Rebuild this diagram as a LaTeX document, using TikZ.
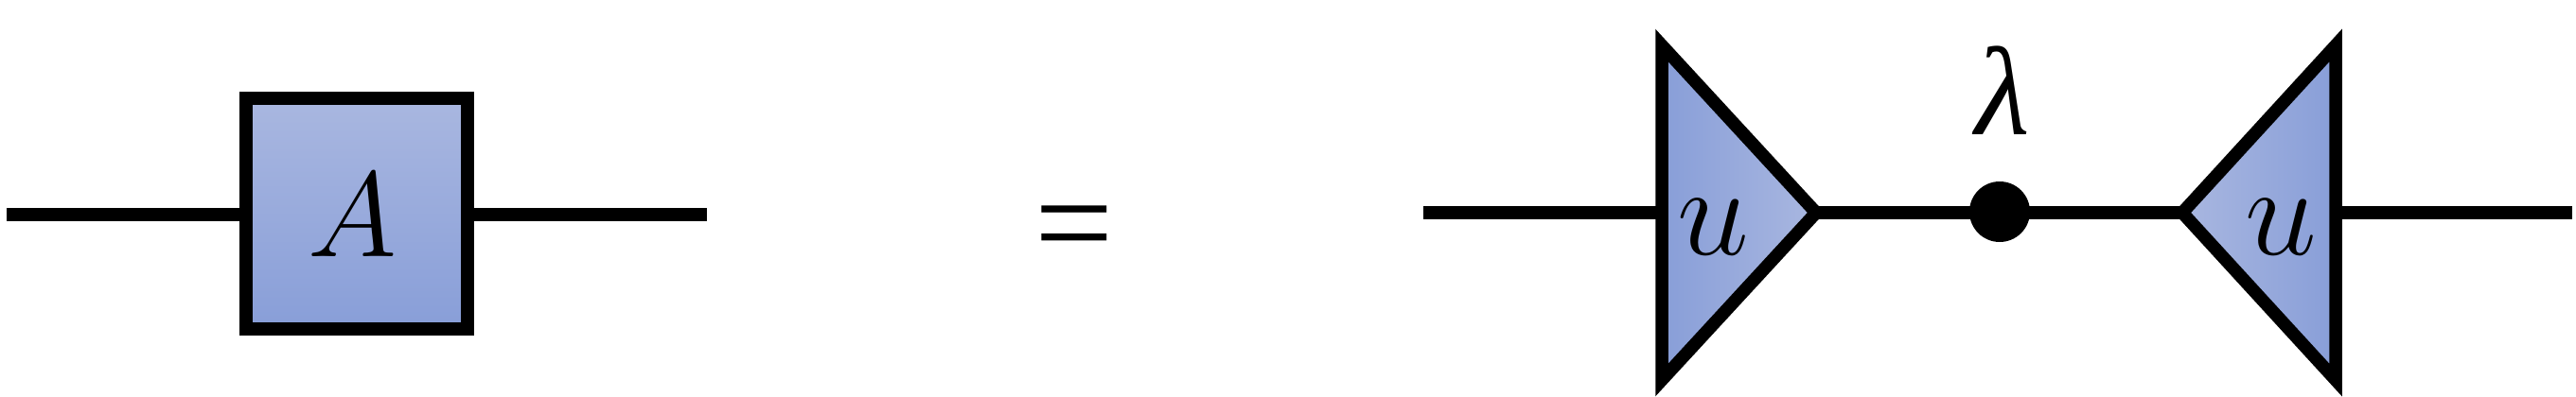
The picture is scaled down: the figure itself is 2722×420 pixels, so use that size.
\RequirePackage{fix-cm}
\documentclass[tikz,border=0pt]{standalone}
\usepackage{fontspec}
\newfontfamily\tms{Liberation Serif}
\definecolor{lightblue}{HTML}{A9B7E0}
\definecolor{darkblue}{HTML}{889ED8}
\begin{document}
\begin{tikzpicture}[x=1pt,y=-1pt,
  wire/.style={line width=13.5pt},
  tensorbox/.style={draw, line width=13.5pt, top color=lightblue, bottom color=darkblue, inner sep=0pt},
  ltri/.style={draw, line width=13.5pt, left color=darkblue, right color=lightblue},
  rtri/.style={draw, line width=13.5pt, left color=lightblue, right color=darkblue},
  lbl/.style={font=\fontsize{128}{128}\selectfont, inner sep=0pt},
  ulbl/.style={font=\fontsize{136}{136}\selectfont, inner sep=0pt},
  glbl/.style={font=\fontsize{133}{133}\selectfont\tms\itshape, inner sep=0pt}]
\useasboundingbox (0,0) rectangle (2722,420);
% left side
\coordinate (l0) at (7,227);
\coordinate (r0) at (747,227);
\node[tensorbox, minimum width=234pt, minimum height=244pt] (A) at (377,226) {};
\draw[wire] (l0) -- (l0 -| A.west);
\draw[wire] (A.east |- r0) -- (r0);
\node[lbl, anchor=base] (Alab) at (372,271) {$A$};
% equals
\node[font=\fontsize{148}{148}\selectfont\tms, inner sep=0pt] (eq) at (1135,252) {=};
% right side
\coordinate (t1a) at (1756,48);
\coordinate (t1m) at (1756,225);
\coordinate (t1b) at (1756,402);
\coordinate (t1tip) at (1919,225);
\coordinate (t2a) at (2468,48);
\coordinate (t2m) at (2468,225);
\coordinate (t2b) at (2468,402);
\coordinate (t2tip) at (2306,225);
\coordinate (w0) at (1504,225);
\coordinate (w1) at (2718,225);
\draw[wire] (w0) -- (t1m);
\draw[wire] (t1tip) -- (t2tip);
\draw[wire] (t2m) -- (w1);
\path[ltri] (t1a) -- (t1tip) -- (t1b) -- cycle;
\path[rtri] (t2a) -- (t2tip) -- (t2b) -- cycle;
\node[circle, fill=black, minimum size=64pt, inner sep=0pt] (lam) at (2113,224) {};
\node[glbl, anchor=base] (lamlab) at (2116,142) {λ};
\node[ulbl, anchor=base] (u1) at (1810,269) {$u$};
\node[ulbl, anchor=base] (u2) at (2410,269) {$u$};
\end{tikzpicture}
\end{document}
